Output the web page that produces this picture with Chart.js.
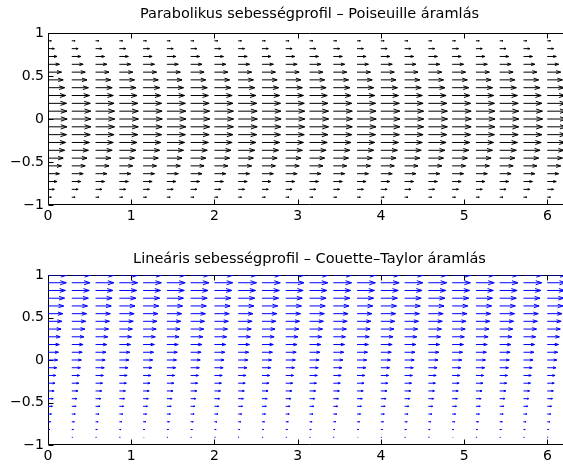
<!DOCTYPE html>
<html>
<head>
<meta charset="utf-8">
<script src="https://cdn.jsdelivr.net/npm/chart.js@4.4.0/dist/chart.umd.min.js"></script>
<style>
html,body{margin:0;padding:0;background:#fff;overflow:hidden;width:563px;height:468px}
.box{position:absolute;left:0;width:571px;height:234px}
#b1{top:0}
#b2{top:234px}
</style>
</head>
<body>
<div class="box" id="b1"><canvas id="c1"></canvas></div>
<div class="box" id="b2"><canvas id="c2"></canvas></div>
<script>
/* grid of the quiver plots (23 x 23) */
const xCols=[0,0.2856,0.5712,0.8568,1.1424,1.4280,1.7136,1.9992,2.2848,2.5704,2.8560,3.1416,
  3.4272,3.7128,3.9984,4.2840,4.5696,4.8552,5.1408,5.4264,5.7120,5.9976,6.2832];
const yRows=[-1,-0.909,-0.818,-0.727,-0.636,-0.545,-0.455,-0.364,-0.273,-0.182,-0.091,0,
  0.091,0.182,0.273,0.364,0.455,0.545,0.636,0.727,0.818,0.909,1];
/* horizontal velocity in each row */
const poiseuilleU=[0,0.174,0.331,0.471,0.595,0.702,0.793,0.868,0.926,0.967,0.992,1,
  0.992,0.967,0.926,0.868,0.793,0.702,0.595,0.471,0.331,0.174,0];
const couetteU=[0,0.045,0.091,0.136,0.182,0.227,0.273,0.318,0.364,0.409,0.455,0.5,
  0.545,0.591,0.636,0.682,0.727,0.773,0.818,0.864,0.909,0.955,1];
const xTicks=[0,1,2,3,4,5,6];
const yTicks=[-1,-0.5,0,0.5,1];
const titles=['Parabolikus sebességprofil – Poiseuille áramlás','Lineáris sebességprofil – Couette–Taylor áramlás'];

const ARROW_SCALE=0.23, HEAD_A=0.33, HEAD_B=0.33, TICK=5;
const FONT='"DejaVu Sans", sans-serif';

/* arrows as one broken polyline: shaft, gap, head, gap */
function quiverData(u){
  const pts=[];
  yRows.forEach((y,i)=>{
    const L=u[i]*ARROW_SCALE;
    xCols.forEach(x=>{
      const tx=x+L, hx=tx-HEAD_A*L, hy=HEAD_A*HEAD_B*L;
      pts.push({x,y},{x:tx,y},{x:tx,y:null},
        {x:hx,y:y+hy},{x:tx,y},{x:hx,y:y-hy},{x:tx,y:null});
    });
  });
  return pts;
}

const fmt=v=>(v<0?'−':'')+Math.abs(v);

/* MATLAB style box with inward ticks */
const frame={
  id:'frame',
  beforeDatasetsDraw(chart){
    const{ctx,chartArea:a,scales:{x,y}}=chart;
    const L=Math.round(a.left)+0.5,R=Math.round(a.right)-0.5,T=Math.round(a.top)+0.5,B=Math.round(a.bottom)-0.5;
    ctx.save();
    ctx.strokeStyle='#000';ctx.lineWidth=1;
    ctx.beginPath();
    xTicks.forEach(v=>{
      const px=Math.round(x.getPixelForValue(v))+0.5;
      ctx.moveTo(px,B);ctx.lineTo(px,B-TICK);
      ctx.moveTo(px,T);ctx.lineTo(px,T+TICK);
    });
    yTicks.forEach(v=>{
      const py=Math.round(y.getPixelForValue(v))+0.5;
      ctx.moveTo(L,py);ctx.lineTo(L+TICK,py);
      ctx.moveTo(R,py);ctx.lineTo(R-TICK,py);
    });
    ctx.rect(L,T,R-L,B-T);
    ctx.stroke();
    ctx.restore();
  }
};

function makeChart(id,u,color,title,padTop,padBottom,xH){
  return new Chart(document.getElementById(id),{
    type:'scatter',
    data:{datasets:[{data:quiverData(u),showLine:true,spanGaps:false,borderColor:color,
      borderWidth:1,pointRadius:0,pointHoverRadius:0,tension:0}]},
    plugins:[frame],
    options:{
      responsive:true,maintainAspectRatio:false,animation:false,
      layout:{padding:0},
      events:[],
      plugins:{
        legend:{display:false},tooltip:{enabled:false},
        title:{display:true,fullSize:false,text:title,color:'#000',font:{family:FONT,size:14.5,weight:'normal'},
          padding:{top:padTop,bottom:padBottom}}
      },
      scales:{
        x:{type:'linear',min:0,max:6.2832,
          afterBuildTicks:s=>{s.ticks=xTicks.map(v=>({value:v}))},
          afterFit:s=>{s.height=xH},
          grid:{display:false,drawTicks:false},border:{display:false},
          ticks:{color:'#000',padding:3,font:{family:FONT,size:14},maxRotation:0,callback:fmt}},
        y:{type:'linear',min:-1,max:1,
          afterBuildTicks:s=>{s.ticks=yTicks.map(v=>({value:v}))},
          afterFit:s=>{s.width=48},
          grid:{display:false,drawTicks:false},border:{display:false},
          ticks:{color:'#000',padding:4,font:{family:FONT,size:14},callback:fmt}}
      }
    }
  });
}

makeChart('c1',poiseuilleU,'#000000',titles[0],5.8,9.8,29);
makeChart('c2',couetteU,'#0000ff',titles[1],16.3,7.3,23);
</script>
</body>
</html>
